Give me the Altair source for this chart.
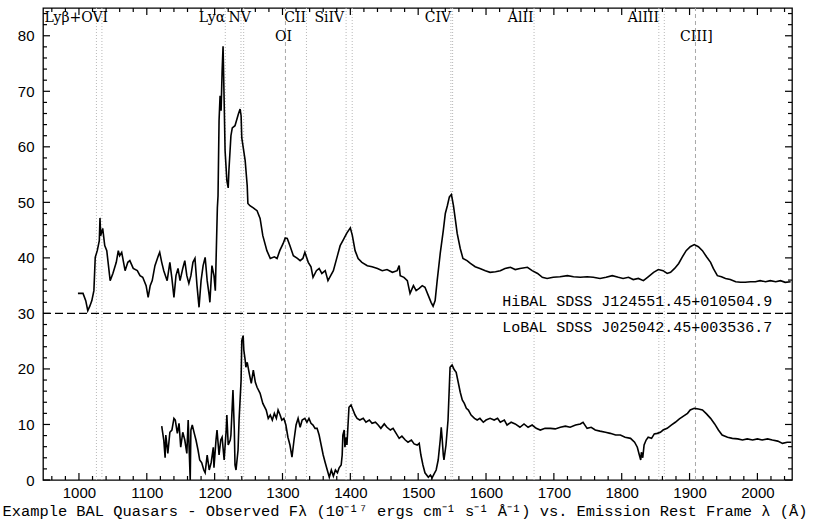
import altair as alt
import pandas as pd

# ---------------- spectra (rest-frame wavelength in Angstrom, flux in 1e-17 erg/cm2/s/A)
hibal_wave = [998.5, 1006, 1010, 1013, 1016, 1019, 1022, 1024, 1027, 1030, 1031, 1032, 1035, 1038,
              1041, 1046, 1050, 1055, 1058, 1060, 1063, 1068, 1072, 1075, 1080, 1086, 1090, 1094,
              1099, 1102, 1105, 1108, 1112, 1117, 1119, 1122, 1125, 1130, 1134, 1137, 1140, 1143,
              1146, 1149, 1153, 1156, 1159, 1162, 1165, 1168, 1171, 1174, 1177, 1180, 1183, 1186,
              1189, 1192, 1193, 1196, 1199, 1201, 1204, 1205, 1206.5, 1208, 1209.5, 1211, 1212.4,
              1214, 1215.4, 1218, 1220, 1221, 1224, 1226, 1230, 1235, 1237.5, 1239, 1240, 1245,
              1248, 1249, 1252, 1257, 1262.5, 1267, 1271, 1277, 1282, 1288, 1292, 1296, 1301, 1304,
              1307, 1311, 1316, 1322, 1326, 1330, 1333, 1338, 1342, 1345, 1350, 1354, 1358, 1363,
              1367, 1370, 1375, 1381, 1385, 1389, 1395, 1400, 1403, 1407, 1411.5, 1417, 1425, 1432,
              1440, 1447, 1454, 1462, 1469, 1472, 1473.5, 1479, 1484, 1488, 1493, 1497, 1501.5,
              1506, 1510, 1515, 1519, 1522, 1525, 1528, 1532.5, 1537, 1540, 1543, 1546, 1549, 1552,
              1555, 1557.5, 1562, 1566, 1572, 1577, 1584, 1591, 1599, 1606, 1614, 1621, 1628, 1636,
              1643, 1650, 1661, 1668, 1676, 1683, 1690, 1699, 1709, 1720, 1729, 1739, 1749, 1758,
              1768, 1777, 1786, 1795, 1802, 1810, 1817, 1824.5, 1832, 1839, 1847, 1854, 1861, 1867,
              1872, 1878, 1884, 1889, 1895, 1901, 1907, 1913, 1919, 1925, 1931, 1935, 1941, 1947,
              1953, 1960, 1968, 1975, 1982, 1990, 1997, 2004, 2012, 2019, 2027, 2034, 2041, 2049]
hibal_flux = [33.6, 33.6, 32.3, 30.5, 31.3, 32.3, 34.1, 40.1, 41.3, 43.1, 47.2, 44.0, 45.3, 42.2,
              41.3, 35.9, 37.2, 39.2, 41.3, 40.4, 41.0, 37.7, 39.2, 39.5, 38.1, 37.7, 36.8, 36.5,
              35.0, 32.9, 35.0, 35.9, 38.6, 40.4, 41.0, 39.2, 37.7, 35.9, 39.2, 36.3, 32.9, 36.8,
              38.1, 35.9, 38.1, 39.5, 36.8, 35.4, 36.8, 39.2, 39.9, 35.0, 31.1, 35.9, 38.6, 40.1,
              35.9, 33.2, 32.0, 38.6, 36.8, 34.1, 49.0, 51.2, 64.7, 69.2, 66.5, 73.6, 78.1,
              68.3, 59.3, 53.9, 52.6, 55.7, 62.0, 63.4, 63.8, 65.9, 66.8, 65.6, 61.6, 57.5,
              53.0, 49.8, 49.4, 49.0, 48.5, 47.1, 44.0, 41.3, 39.9, 40.2, 39.9, 41.3, 42.6, 43.6,
              43.5, 42.2, 40.4, 39.9, 39.5, 39.9, 41.0, 39.2, 38.4, 36.5, 37.7, 38.1, 37.2, 37.7,
              35.9, 36.6, 37.7, 40.4, 42.2, 43.1, 44.5, 45.4, 44.0, 41.3, 39.9, 39.2, 38.6, 38.4,
              38.1, 37.7, 37.9, 37.4, 37.7, 38.6, 36.8, 36.5, 35.9, 33.6, 35.0, 34.1, 34.5,
              35.0, 34.7, 33.2, 32.0, 31.3, 32.3, 35.9, 40.8, 44.9, 48.0, 49.4, 51.0, 51.4, 49.4,
              46.7, 44.4, 41.7, 39.9, 39.5, 39.0, 38.4, 38.1, 37.7, 37.4, 37.5, 37.7, 38.1, 38.3,
              37.9, 38.1, 38.3, 37.7, 37.2, 36.5, 36.3, 36.5, 36.6, 36.8, 36.6, 36.5, 36.6, 36.5,
              36.3, 36.5, 36.8, 36.5, 36.3, 36.5, 36.1, 36.3, 35.9, 36.6, 37.4, 37.9, 37.7, 37.2,
              37.4, 38.1, 39.0, 40.1, 41.3, 42.0, 42.4, 42.0, 41.3, 40.2, 39.2, 38.1, 36.8, 36.6,
              36.3, 36.1, 35.7, 35.6, 35.6, 35.7, 35.7, 35.9, 35.7, 35.9, 35.7, 35.9, 35.6, 35.7]

lobal_wave = [1122, 1125, 1127, 1128, 1131, 1134, 1137, 1140, 1142, 1145, 1147.5, 1150, 1153, 1156,
              1159, 1161, 1162, 1164, 1165, 1167, 1170, 1172.5, 1175.5, 1178, 1181, 1184, 1186,
              1189, 1192, 1195, 1198, 1199, 1202, 1203.5, 1206.5, 1209, 1211, 1214, 1217, 1218,
              1220, 1223, 1224, 1227, 1229, 1230, 1231.5, 1234.5, 1236, 1239, 1240, 1242, 1243,
              1245, 1246, 1248, 1251, 1254, 1257, 1260, 1262.5, 1267, 1271, 1276, 1279, 1282, 1285,
              1288, 1291, 1293.5, 1296.5, 1299, 1302, 1305, 1308, 1311, 1314, 1317, 1320, 1323,
              1326, 1329, 1333, 1336, 1339, 1342, 1345, 1348, 1351, 1354, 1357, 1360, 1363, 1366,
              1369, 1372, 1375, 1378, 1381, 1383.5, 1386.5, 1388, 1389, 1391, 1392, 1394, 1395,
              1398, 1401, 1404, 1407, 1410, 1414, 1419, 1423, 1428, 1432, 1437, 1441, 1445, 1450,
              1454, 1459, 1463, 1467.5, 1472, 1476, 1481, 1485, 1490, 1494, 1498.5, 1501.5, 1504,
              1507, 1510, 1515, 1518, 1520.5, 1523.5, 1526.5, 1529.5, 1532.5, 1534, 1535.5, 1537,
              1538, 1541, 1544, 1546, 1547, 1550, 1553, 1556, 1559, 1562, 1565, 1568, 1571, 1574,
              1578, 1583, 1587, 1591, 1596, 1600, 1606, 1612, 1617, 1621, 1627, 1631, 1637, 1643,
              1650, 1656, 1662, 1668, 1674, 1680, 1687, 1695, 1702, 1709.5, 1717, 1724, 1732, 1739,
              1743, 1749, 1755, 1761, 1768, 1776, 1783, 1791, 1798, 1805, 1813, 1819, 1823, 1826,
              1828, 1829, 1831, 1833, 1836, 1839, 1844, 1848, 1852.5, 1857, 1861, 1867, 1873, 1879,
              1885, 1891, 1897, 1901, 1907, 1913, 1919, 1925, 1931, 1937, 1942.5, 1948, 1956, 1963,
              1971, 1978, 1985, 1993, 2000, 2007, 2015, 2022, 2030, 2037, 2044, 2050]
lobal_flux = [9.7, 7.2, 4.0, 8.1, 4.8, 8.6, 9.0, 11.1, 10.8, 8.4, 10.2, 5.9, 8.6, 7.2,
              4.8, 10.8, 7.2, 0.0, 9.0, 9.9, 8.4, 7.2, 5.4, 3.6, 3.1, 1.8, 1.3,
              4.5, 1.8, 3.2, 5.9, 2.2, 7.2, 9.0, 4.5, 7.2, 7.7, 3.6, 9.0, 11.7,
              6.3, 7.2, 8.1, 16.2, 9.0, 2.7, 1.8, 5.4, 10.8, 18.0, 25.1, 26.0, 23.4,
              21.6, 20.3, 21.2, 19.2, 17.4, 19.8, 17.6, 16.7, 15.6, 13.8, 12.6, 11.1, 11.7, 10.8,
              12.0, 11.1, 12.6, 11.7, 10.8, 11.1, 9.9, 7.7, 6.3, 4.1, 7.2, 9.9, 11.1,
              9.5, 10.8, 11.1, 10.4, 11.1, 10.2, 9.9, 9.3, 9.3, 8.1, 6.3, 4.5, 3.1, 1.8,
              0.5, 1.8, 0.7, 1.8, 1.3, 2.2, 2.7, 4.5, 8.1, 9.0, 5.9, 7.7, 6.3,
              13.1, 13.5, 12.6, 11.7, 11.1, 10.8, 11.1, 10.4, 10.8, 10.2, 10.4, 9.9, 9.3, 10.1,
              9.5, 9.0, 9.3, 8.4, 7.5, 7.9, 7.2, 6.8, 7.2, 6.5, 6.3, 6.6, 4.5,
              2.7, 1.3, 0.5, 0.9, 0.4, 1.1, 1.8, 3.6, 7.2, 9.5, 7.2, 4.5,
              3.6, 6.3, 10.8, 17.1, 20.3, 20.7, 19.9, 19.4, 17.6, 15.8, 14.4, 13.8, 12.9, 12.6,
              11.7, 11.1, 10.8, 11.1, 10.4, 10.8, 11.1, 10.8, 11.1, 10.4, 10.8, 9.9, 10.4, 10.1,
              9.5, 10.1, 9.5, 9.9, 9.3, 9.0, 9.3, 9.3, 9.2, 9.5, 9.7, 9.5, 9.9, 10.1,
              10.4, 9.3, 9.5, 9.0, 8.8, 8.6, 8.4, 8.1, 8.1, 7.7, 7.5, 6.8, 5.9, 4.5,
              3.6, 5.0, 4.0, 6.3, 7.2, 7.7, 7.5, 8.3, 8.4, 8.6, 9.0, 9.3, 9.9, 10.4,
              11.0, 11.5, 12.0, 12.6, 12.9, 12.8, 12.6, 11.9, 11.1, 10.1, 9.0, 8.1, 7.7, 7.5,
              7.4, 7.2, 7.4, 7.2, 7.4, 7.2, 7.4, 7.2, 7.0, 6.6, 6.8, 6.8]

# ---------------- emission-line markers
line_waves = [1025.72, 1033.83, 1215.67, 1238.8, 1242.8, 1304.35, 1335.3, 1393.76, 1402.77,
              1548.2, 1550.77, 1670.79, 1854.72, 1862.79, 1908.73]
line_dashed = [False, False, False, False, False, True, False, False, False,
               False, False, False, False, False, True]

label_texts = ["Lyβ+OVI", "Lyα", "NV", "CII", "SiIV", "CIV", "AlII", "AlIII", "OI", "CIII]"]
label_waves = [996, 1196, 1237, 1318.6, 1369, 1529, 1651, 1832, 1301.6, 1910]
label_flux = [83.2, 83.2, 83.2, 83.2, 83.2, 83.2, 83.2, 83.2, 79.8, 79.8]

object_names = ["HiBAL SDSS J124551.45+010504.9", "LoBAL SDSS J025042.45+003536.7"]
object_waves = [2022, 2022]
object_flux = [32.3, 27.6]

divider_flux = 30

# ---------------- axes
x_min, x_max = 947, 2051
y_min, y_max = 0, 85
x_major = list(range(1000, 2001, 100))
x_minor = [v for v in range(960, 2041, 20) if v % 100 != 0]
y_major = list(range(0, 81, 10))
y_minor = [v for v in range(2, 85, 2) if v % 10 != 0]

W, H = 749, 472
x_unit = (x_max - x_min) / W   # Angstrom per pixel
y_unit = (y_max - y_min) / H   # flux per pixel
major_len, minor_len = 7, 4

serif = "DejaVu Serif"
mono = "Liberation Mono"
sans = "Liberation Sans"

xs = alt.Scale(domain=[x_min, x_max], nice=False, zero=False)
ys = alt.Scale(domain=[y_min, y_max], nice=False, zero=False)

spec_df = pd.concat([
    pd.DataFrame({"wave": hibal_wave, "flux": hibal_flux, "obj": "HiBAL"}),
    pd.DataFrame({"wave": lobal_wave, "flux": lobal_flux, "obj": "LoBAL"}),
])

lines_df = pd.DataFrame({"wave": line_waves, "dashed": line_dashed, "y0": y_min, "y1": y_max})

title = ("Example BAL Quasars - Observed Fλ (10⁻¹⁷ ergs cm⁻¹ s⁻¹ Å⁻¹) "
         "vs. Emission Rest Frame λ (Å)")

x_axis = alt.Axis(values=x_major, format="d", ticks=False, domain=False, grid=False,
                  labelFont=sans, labelFontSize=15, labelColor="black", labelPadding=5,
                  title=title, titleFont=mono, titleFontSize=15.4, titleFontWeight="normal",
                  titleColor="black", titlePadding=3, titleX=W / 2 - 13, titleAlign="center")
y_axis = alt.Axis(values=y_major, ticks=False, domain=False, grid=False, labelFont=sans,
                  labelFontSize=15, labelColor="black", labelPadding=9, title=None)

base_x = alt.X("wave:Q", scale=xs, axis=x_axis)

dotted = alt.Chart(lines_df[~lines_df.dashed]).mark_rule(
    color="#b8b8b8", strokeWidth=1, strokeDash=[1, 2]
).encode(x=base_x, y=alt.Y("y0:Q", scale=ys, axis=y_axis), y2="y1:Q")

dashed = alt.Chart(lines_df[lines_df.dashed]).mark_rule(
    color="#a8a8a8", strokeWidth=1, strokeDash=[4, 3]
).encode(x=alt.X("wave:Q", scale=xs), y=alt.Y("y0:Q", scale=ys), y2="y1:Q")

divider = alt.Chart(pd.DataFrame({"f": [divider_flux], "a": [x_min], "b": [x_max]})).mark_rule(
    color="black", strokeWidth=1.4, strokeDash=[8, 4]
).encode(x=alt.X("a:Q", scale=xs), x2="b:Q", y=alt.Y("f:Q", scale=ys))

spectra = alt.Chart(spec_df).mark_line(color="black", strokeWidth=1.6, clip=True).encode(
    x=alt.X("wave:Q", scale=xs), y=alt.Y("flux:Q", scale=ys), detail="obj:N"
)

line_labels = alt.Chart(pd.DataFrame({"t": label_texts, "w": label_waves, "f": label_flux})).mark_text(
    font=serif, fontSize=14, color="black", align="center", baseline="middle"
).encode(x=alt.X("w:Q", scale=xs), y=alt.Y("f:Q", scale=ys), text="t:N")

obj_labels = alt.Chart(pd.DataFrame({"t": object_names, "w": object_waves, "f": object_flux})).mark_text(
    font=mono, fontSize=15, color="black", align="right", baseline="middle"
).encode(x=alt.X("w:Q", scale=xs), y=alt.Y("f:Q", scale=ys), text="t:N")

# inward tick marks on all four sides
tick_rows = []
for v in x_major + x_minor:
    L = major_len if v in x_major else minor_len
    tick_rows.append({"x": v, "x2": v, "y": y_min, "y2": y_min + L * y_unit})
    tick_rows.append({"x": v, "x2": v, "y": y_max, "y2": y_max - L * y_unit})
for v in y_major + y_minor:
    L = major_len if v in y_major else minor_len
    tick_rows.append({"x": x_min, "x2": x_min + L * x_unit, "y": v, "y2": v})
    tick_rows.append({"x": x_max, "x2": x_max - L * x_unit, "y": v, "y2": v})
ticks = alt.Chart(pd.DataFrame(tick_rows)).mark_rule(color="black", strokeWidth=1.2).encode(
    x=alt.X("x:Q", scale=xs), x2="x2:Q", y=alt.Y("y:Q", scale=ys), y2="y2:Q"
)

chart = alt.layer(dotted, dashed, divider, spectra, line_labels, obj_labels, ticks).properties(
    width=W, height=H,
    autosize=alt.AutoSizeParams(type="none"),
    padding={"left": 43, "top": 8, "right": 25, "bottom": 43},
    background="white",
).configure_view(stroke="black", strokeWidth=1.3)

chart.save("out.html", embed_options={"renderer": "svg", "actions": False})
